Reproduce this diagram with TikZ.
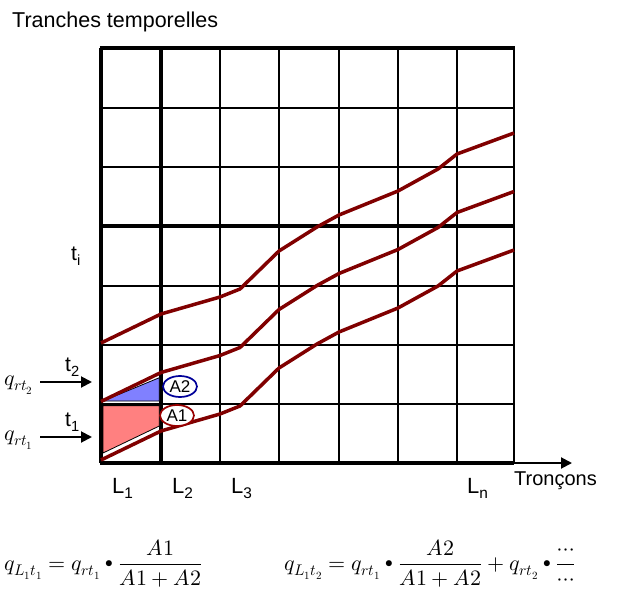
\documentclass[tikz,border=0pt]{standalone}
\usepackage{fontspec}
\usepackage{unicode-math}
\setmainfont{Liberation Sans}
\usetikzlibrary{arrows.meta,shapes.geometric}
\definecolor{curvered}{RGB}{128,0,0}
\definecolor{redfill}{RGB}{255,128,128}
\definecolor{bluefill}{RGB}{128,128,255}
\definecolor{navyline}{RGB}{0,0,153}
\definecolor{darkredline}{RGB}{153,0,0}
\newcommand{\smallbul}{\mathbin{\vcenter{\hbox{\scalebox{0.7}{$\bullet$}}}}}
\tikzset{
  gridthin/.style={line width=2pt,black},
  gridthick/.style={line width=3.2pt,black},
  curveline/.style={line width=3.5pt,curvered,line join=round},
  arealine/.style={line width=0.8pt,black},
  arrowline/.style={line width=2pt,black,-{Triangle[length=11pt,width=11pt]}},
  lab/.style={inner sep=0pt,font=\fontsize{21}{25}\selectfont},
  bigl/.style={inner sep=0pt,font=\fontsize{22}{26}\selectfont},
  areatag/.style={ellipse,line width=1.7pt,fill=white,minimum width=34pt,minimum height=21pt,inner sep=0pt,font=\fontsize{17}{20}\selectfont},
  formula/.style={inner sep=0pt,font=\fontsize{22}{26}\selectfont}
}
\begin{document}
\begin{tikzpicture}[x=1pt,y=-1pt]
\useasboundingbox (0,0) rectangle (619,595);
% grid
\foreach \x in {220,279,339,398,457,514} \draw[gridthin] (\x,48) -- (\x,463);
\foreach \y in {108,167,286,345,404} \draw[gridthin] (101,\y) -- (514,\y);
\draw[gridthick] (161,48) -- (161,463);
\draw[gridthick] (101,226) -- (514,226);
\draw[gridthick] (99.5,48) -- (515,48);
\draw[gridthick] (101,48) -- (101,463);
\draw[gridthick] (99.5,463) -- (514,463);
% areas
\filldraw[arealine,fill=redfill] (103,405.6) -- (159.3,405.6) -- (159.3,426) -- (103,453) -- cycle;
\filldraw[arealine,fill=bluefill] (103,401) -- (159.3,377.7) -- (159.3,401) -- cycle;
% curves
\foreach \o in {0,58.5,117}
  \draw[curveline] (101,{460-\o}) -- (161,{431-\o}) -- (220,{414-\o}) -- (240,{406-\o}) -- (279,{368-\o}) -- (317,{344-\o}) -- (339,{332-\o}) -- (398,{308-\o}) -- (438,{286-\o}) -- (457,{271-\o}) -- (514,{250-\o});
% area tags
\node[areatag,draw=navyline] (a2) at (180,386.5) {A2};
\node[areatag,draw=darkredline] (a1) at (177,415.5) {A1};
% axis
\coordinate (ax0) at (470,463);
\coordinate (ax1) at (572,463);
\draw[arrowline] (ax0) -- (ax1);
\node[lab,anchor=base west,font=\fontsize{20}{24}\selectfont] (tron) at (514,485) {Tronçons};
\node[lab,anchor=base west,font=\fontsize{21.5}{25}\selectfont] (title) at (12,27) {Tranches temporelles};
% section labels
\node[bigl,anchor=base west] (l1) at (112,493) {L\textsubscript{1}};
\node[bigl,anchor=base west] (l2) at (172,493) {L\textsubscript{2}};
\node[bigl,anchor=base west] (l3) at (231,493) {L\textsubscript{3}};
\node[bigl,anchor=base west] (ln) at (467,493) {L\textsubscript{n}};
% time labels
\node[lab,anchor=base west] (ti) at (71,260) {t\textsubscript{i}};
\node[lab,anchor=base west] (t2) at (65,371) {t\textsubscript{2}};
\node[lab,anchor=base west] (t1) at (65,426) {t\textsubscript{1}};
% inflow labels and arrows
\node[formula,anchor=base west] (q2) at (4,385) {$q_{rt_2}$};
\node[formula,anchor=base west] (q1) at (4,440) {$q_{rt_1}$};
\coordinate (q2s) at (40,382);
\coordinate (q2e) at (92,382);
\coordinate (q1s) at (40,437);
\coordinate (q1e) at (92,437);
\draw[arrowline] (q2s) -- (q2e);
\draw[arrowline] (q1s) -- (q1e);
% formulas
\node[formula,anchor=base west] (f1) at (4,570) {$q_{L_1t_1}=q_{rt_1}\smallbul\dfrac{A1}{A1+A2}$};
\node[formula,anchor=base west] (f2) at (284,570) {$q_{L_1t_2}=q_{rt_1}\smallbul\dfrac{A2}{A1+A2}+q_{rt_2}\smallbul\dfrac{\cdots}{\cdots}$};
\end{tikzpicture}
\end{document}
